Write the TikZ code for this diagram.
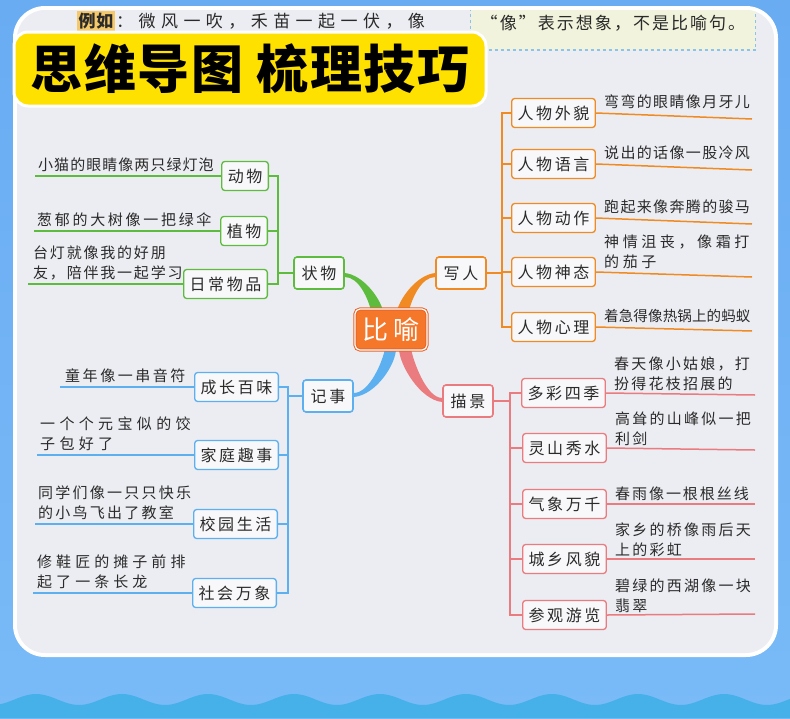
\documentclass[tikz,border=0pt]{standalone}
\usepackage{fontspec}
\setmainfont{Noto Sans CJK SC}[LetterSpace=16]
\usetikzlibrary{positioning, calc}

\definecolor{bgblue}{HTML}{69ACF2}
\definecolor{bgblue2}{HTML}{79BAF7}
\definecolor{waveblue}{HTML}{45B1E8}
\definecolor{page}{HTML}{ECEDF2}
\definecolor{titleyellow}{HTML}{FFE100}
\definecolor{notefill}{HTML}{F1F3DC}
\definecolor{noteline}{HTML}{8CC4E8}
\definecolor{hilite}{HTML}{F5C86A}
\definecolor{cg}{HTML}{5DBB3E}
\definecolor{co}{HTML}{F08A22}
\definecolor{cb}{HTML}{5CB0F0}
\definecolor{cr}{HTML}{EA7B7E}
\definecolor{corefill}{HTML}{F4772A}
\definecolor{coreline}{HTML}{E8652A}
\definecolor{boxfill}{HTML}{F8F8FA}
\definecolor{ink}{HTML}{2A2A2A}

\pgfdeclarelayer{back}
\pgfdeclarelayer{mid}
\pgfsetlayers{back,mid,main}

\begin{document}
\begin{tikzpicture}[x=1pt, y=-1pt,
        core/.style={fill=corefill, draw=coreline, double=white, double distance=1.2pt, line width=1pt, rounded corners=5pt, minimum width=72pt, minimum height=41pt, text=white, font=\fontsize{26}{26}\selectfont},
        topic/.style={draw=#1, fill=boxfill, line width=1.6pt, rounded corners=3pt, minimum width=50pt, minimum height=32pt, inner xsep=6.5pt, text=ink, font=\fontsize{16}{16}\selectfont},
        sub/.style={draw=#1, fill=boxfill, line width=1.3pt, rounded corners=3pt, minimum height=29pt, inner xsep=6pt, text=ink, font=\fontsize{16}{16}\selectfont},
        leaf/.style={inner sep=0pt, align=left, text=ink, font=\fontsize{15}{20}\selectfont\addfontfeature{LetterSpace=#1}},
        leaf/.default=16,
        branch/.style={draw=#1, line width=1.8pt},
        twig/.style={draw=#1, line width=1.5pt},
        note/.style={draw=noteline, dashed, line width=1.2pt, fill=notefill, minimum width=285pt, minimum height=54pt, text=ink, font=\fontsize{17}{17}\selectfont\addfontfeature{LetterSpace=12}},
        titlebox/.style={fill=titleyellow, draw=white, line width=3pt, rounded corners=14pt, minimum width=472pt, minimum height=74pt, text=black, font=\fontsize{52}{52}\selectfont\bfseries\addfontfeature{LetterSpace=3}}
    ]

    \useasboundingbox (0,0) rectangle (790,718);
    \begin{pgfonlayer}{back}
        \shade[top color=bgblue, bottom color=bgblue2] (0,0) rectangle (790,718);
        \fill[waveblue] plot[domain=-20:810, samples=160, smooth] (\x, {699.5-5.5*cos(4.186*(\x-36))}) -- (810,718) -- (-20,718) -- cycle;
        \fill[white, rounded corners=32pt] (13,6) rectangle (778,657);
        \fill[page, rounded corners=28pt] (17,10) rectangle (774,653);
    \end{pgfonlayer}

    \begin{scope}
        \clip[rounded corners=28pt] (17,10) rectangle (774,653);
        \node[note] (nt) at (613,23) {“像”表示想象，不是比喻句。};
    \end{scope}
    \node[inner sep=1.5pt, fill=hilite, text=ink, font=\fontsize{17}{17}\selectfont\bfseries\addfontfeature{LetterSpace=4}] (lz) at (96,21) {例如};
    \node[right=0pt of lz, inner sep=1pt, text=ink, font=\fontsize{17}{17}\selectfont\addfontfeature{LetterSpace=32}] (lw) {：微风一吹，禾苗一起一伏，像};
    \node[titlebox] (tt) at (250,69) {思维导图 梳理技巧};

    \node[core] (bi) at (391,329.5) {比喻};
    \node[topic=cg] (zw) at (319,273) {状物};
    \node[topic=co] (xr) at (461,273) {写人};
    \node[topic=cb] (js) at (328,396) {记事};
    \node[topic=cr] (mj) at (468,401) {描景};

    \begin{pgfonlayer}{mid}
        \fill[cg] (zw.east) .. controls +(18,2) and +(-4,-14) .. ($(bi.north)+(-8,2)$) -- ($(bi.north)+(-20,2)$) .. controls +(-3,-12) and +(14,0) .. ($(zw.east)+(0,4)$) -- cycle;
        \fill[co] (xr.west) .. controls +(-18,2) and +(4,-14) .. ($(bi.north)+(6,2)$) -- ($(bi.north)+(18,2)$) .. controls +(3,-12) and +(-14,0) .. ($(xr.west)+(0,4)$) -- cycle;
        \fill[cb] ($(js.east)+(0,1)$) .. controls +(22,-2) and +(0,16) .. ($(bi.south)+(5,-2)$) -- ($(bi.south)+(-6,-2)$) .. controls +(-2,12) and +(16,0) .. ($(js.east)+(0,-3)$) -- cycle;
        \fill[cr] ($(mj.west)+(0,1)$) .. controls +(-22,-2) and +(0,16) .. ($(bi.south)+(8,-2)$) -- ($(bi.south)+(20,-2)$) .. controls +(2,12) and +(-16,0) .. ($(mj.west)+(0,-3)$) -- cycle;
    \end{pgfonlayer}

    \node[sub=cg, anchor=east] (a1) at (269,176) {动物};
    \node[sub=cg, anchor=east] (a2) at (268,231) {植物};
    \node[sub=cg, anchor=east] (a3) at (268,284) {日常物品};
    \coordinate (e1) at (35,176);
    \coordinate (e2) at (34,231);
    \coordinate (e3) at (28,284);
    \begin{pgfonlayer}{mid}
        \foreach \n in {a1,a2,a3}
            \draw[branch=cg] (zw.west) -- ++(-15.5,0) |- (\n.east);
        \draw[twig=cg] (a1.west) -- (e1);
        \draw[twig=cg] (a2.west) -- (e2);
        \draw[twig=cg] (a3.west) -- (e3);
    \end{pgfonlayer}
    \node[leaf=7, above right=4pt and 3pt of e1] (t1) {小猫的眼睛像两只绿灯泡};
    \node[leaf=18, above right=4pt and 3pt of e2] (t2) {葱郁的大树像一把绿伞};
    \node[leaf=12, above right=4pt and 5pt of e3] (t3) {台灯就像我的好朋\\友，陪伴我一起学习};

    \node[sub=cb, anchor=east] (b1) at (279,387) {成长百味};
    \node[sub=cb, anchor=east] (b2) at (279,455) {家庭趣事};
    \node[sub=cb, anchor=east] (b3) at (278,524) {校园生活};
    \node[sub=cb, anchor=east] (b4) at (277,593) {社会万象};
    \coordinate (f1) at (60,387);
    \coordinate (f2) at (37,455);
    \coordinate (f3) at (35,524);
    \coordinate (f4) at (33,593);
    \begin{pgfonlayer}{mid}
        \foreach \n in {b1,b2,b3,b4}
            \draw[branch=cb] (js.west) -- ++(-14.5,0) |- (\n.east);
        \foreach \n/\m in {b1/f1,b2/f2,b3/f3,b4/f4}
            \draw[twig=cb] (\n.west) -- (\m);
    \end{pgfonlayer}
    \node[leaf=17, above right=4pt and 5pt of f1] (g1) {童年像一串音符};
    \node[leaf=29, above right=4pt and 3pt of f2] (g2) {一个个元宝似的饺\\子包好了};
    \node[leaf=15, above right=4pt and 3pt of f3] (g3) {同学们像一只只快乐\\的小鸟飞出了教室};
    \node[leaf=27, above right=4pt and 4pt of f4] (g4) {修鞋匠的摊子前排\\起了一条长龙};

    \node[sub=co, anchor=west] (o1) at (511,113) {人物外貌};
    \node[sub=co, anchor=west] (o2) at (511,164) {人物语言};
    \node[sub=co, anchor=west] (o3) at (511,218) {人物动作};
    \node[sub=co, anchor=west] (o4) at (511,272) {人物神态};
    \node[sub=co, anchor=west] (o5) at (511,327) {人物心理};
    \coordinate (p1) at (752,119);
    \coordinate (p2) at (752,170);
    \coordinate (p3) at (752,224);
    \coordinate (p4) at (752,277);
    \coordinate (p5) at (752,331);
    \begin{pgfonlayer}{mid}
        \foreach \n in {o1,o2,o3,o4,o5}
            \draw[branch=co] (xr.east) -- ++(15.5,0) |- (\n.west);
        \foreach \n/\m in {o1/p1,o2/p2,o3/p3,o4/p4,o5/p5}
            \draw[twig=co] (\n.east) -- (\m);
    \end{pgfonlayer}
    \node[leaf=9, above right=4pt and 8pt of o1.east] (h1) {弯弯的眼睛像月牙儿};
    \node[leaf=9, above right=4pt and 8pt of o2.east] (h2) {说出的话像一股冷风};
    \node[leaf=9, above right=4pt and 8pt of o3.east] (h3) {跑起来像奔腾的骏马};
    \node[leaf=24, above right=3pt and 8pt of o4.east] (h4) {神情沮丧，像霜打\\的茄子};
    \node[leaf=1, above right=4pt and 8pt of o5.east] (h5) {\fontsize{14.5}{20}\selectfont 着急得像热锅上的蚂蚁};

    \node[sub=cr, anchor=west] (r1) at (521,393) {多彩四季};
    \node[sub=cr, anchor=west] (r2) at (522,448) {灵山秀水};
    \node[sub=cr, anchor=west] (r3) at (522,504) {气象万千};
    \node[sub=cr, anchor=west] (r4) at (522,559) {城乡风貌};
    \node[sub=cr, anchor=west] (r5) at (522,615) {参观游览};
    \coordinate (s1) at (755,395);
    \coordinate (s2) at (755,450);
    \coordinate (s3) at (755,504);
    \coordinate (s4) at (755,559);
    \coordinate (s5) at (755,614);
    \begin{pgfonlayer}{mid}
        \foreach \n in {r1,r2,r3,r4,r5}
            \draw[branch=cr] (mj.east) -- ++(16.5,0) |- (\n.west);
        \foreach \n/\m in {r1/s1,r2/s2,r3/s3,r4/s4,r5/s5}
            \draw[twig=cr] (\n.east) -- (\m);
    \end{pgfonlayer}
    \node[leaf=15, above right=2pt and 8pt of r1.east] (k1) {春天像小姑娘，打\\扮得花枝招展的};
    \node[leaf=15, above right=2pt and 8pt of r2.east] (k2) {高耸的山峰似一把\\利剑};
    \node[leaf=13, above right=3pt and 8pt of r3.east] (k3) {春雨像一根根丝线};
    \node[leaf=15, above right=2pt and 8pt of r4.east] (k4) {家乡的桥像雨后天\\上的彩虹};
    \node[leaf=15, above right=2pt and 8pt of r5.east] (k5) {碧绿的西湖像一块\\翡翠};

\end{tikzpicture}
\end{document}
